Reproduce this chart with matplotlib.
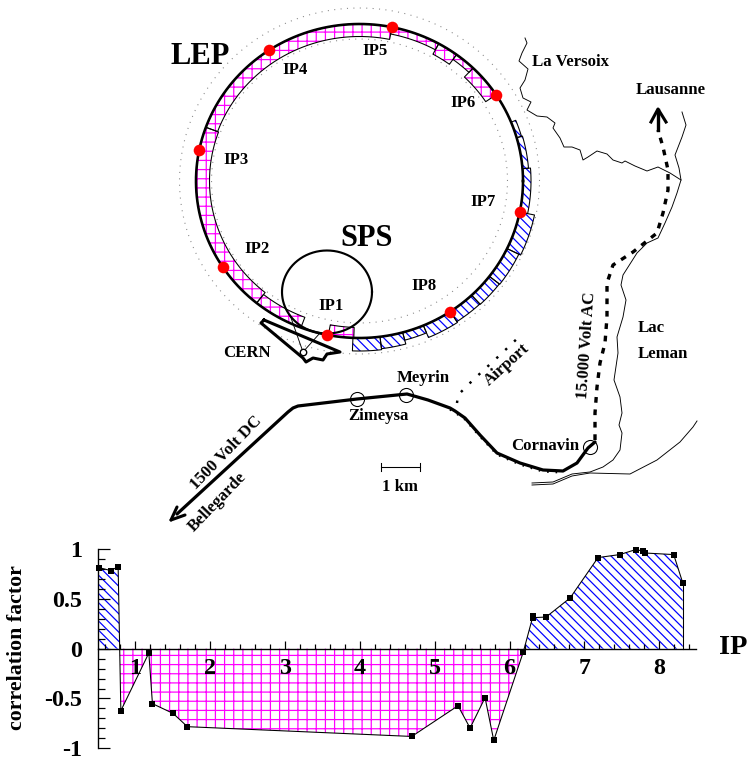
#!/usr/bin/env python3
import numpy as np
import matplotlib
matplotlib.use("Agg")
import matplotlib.pyplot as plt
from matplotlib.ticker import MultipleLocator

plt.rcParams["font.family"] = ["Liberation Serif", "DejaVu Serif"]
plt.rcParams["font.weight"] = "bold"
plt.rcParams["hatch.linewidth"] = 0.8

W, H, DPI = 747, 760, 110
PINK = "#ff00ff"
BLUE = "#0000ff"
BLUE_HATCH = "\\" * 4

# correlation factor versus IP position
ip_pos = [0.519, 0.675, 0.773, 0.809, 1.183, 1.231, 1.507, 1.698, 4.694, 5.312, 5.473,
          5.673, 5.789, 6.185, 6.314, 6.314, 6.487, 6.808, 7.182, 7.471, 7.685, 7.778,
          7.805, 8.192, 8.312]
corr = [0.813, 0.783, 0.823, -0.623, -0.044, -0.552, -0.65, -0.783, -0.881, -0.573, -0.797,
        -0.492, -0.921, -0.03, 0.331, 0.311, 0.317, 0.508, 0.914, 0.944, 0.994, 0.98,
        0.96, 0.944, 0.663]
x_labels = [1, 2, 3, 4, 5, 6, 7, 8]
y_labels = [-1, -0.5, 0, 0.5, 1]

# LEP ring, angles in degrees of the ellipse parameter
ip_names = ["IP1", "IP2", "IP3", "IP4", "IP5", "IP6", "IP7", "IP8"]
ip_angles = [258.5, 213.3, 168.6, 123.7, 78.5, 33.3, -11.4, -56.3]
ip_label_x = [331, 257, 236, 295.5, 375, 463, 483, 424]
ip_label_y = [306, 249, 160, 70, 51, 103, 202, 286]
# (from angle, to angle, width in px)
pink_bands = [(259, 268, 10.5), (231, 249, 11), (160, 231, 13.5), (78.5, 160, 12.5),
              (61, 78.5, 7), (53.6, 61, 12), (46, 53.6, 6), (33.3, 46, 12.5)]
blue_bands = [(16, 22, 5), (4.5, 16, 6), (-11.4, 4.5, 8), (-25.5, -11.4, 15),
              (-37.4, -25.5, 13), (-46.7, -37.4, 12.5), (-56.3, -46.7, 12),
              (-67, -56.3, 13), (-74.7, -67, 8), (-82.8, -74.7, 12), (-92.3, -82.8, 13)]

# map lines, picture coordinates
versoix_x = [525, 527, 522, 519, 528, 525, 520, 523, 531, 527, 537, 547, 555, 553, 560, 564,
             572, 580, 583, 588, 597, 607, 613, 622, 625, 635, 647, 658, 670, 681]
versoix_y = [38, 43, 53, 61, 69, 80, 88, 98, 102, 110, 116, 117, 123, 128, 138, 147,
             147, 150, 160, 157, 151, 154, 160, 163, 161, 166, 171, 167, 173, 180]
shore_x = [682, 686, 682, 675, 679, 681, 677, 672, 665, 658, 647, 637, 623, 621, 626, 623,
           617, 618, 614, 620, 622, 619, 622, 620, 613, 603, 590, 572, 553, 532]
shore_y = [112, 125, 137, 155, 168, 180, 193, 207, 223, 238, 243, 253, 275, 285, 300, 317,
           337, 353, 380, 397, 413, 425, 433, 450, 460, 467, 472, 474, 482, 483]
coast_x = [532, 553, 572, 590, 630, 657, 680, 693, 697]
coast_y = [485, 484, 476, 473, 474, 460, 442, 427, 421]
rail_dc_x = [177, 288, 293, 298, 357, 407, 428, 450, 455, 465, 480, 497, 520, 543, 563, 577, 588, 595]
rail_dc_y = [514, 412, 408, 406, 399, 394, 400, 408, 411, 418, 435, 453, 463, 470, 471, 463, 448, 442]
rail_ac_x = [595, 595, 597, 600, 605, 607, 607, 613, 633, 657, 663, 668, 668, 663, 658]
rail_ac_y = [440, 413, 387, 363, 343, 317, 283, 265, 252, 233, 213, 190, 170, 147, 130]
airport_x = [457, 458, 473, 500, 522]
airport_y = [403, 395, 380, 355, 334]
cern_x = [264, 261, 303, 306, 313, 323, 327, 340, 264]
cern_y = [320, 323, 358, 362, 358, 360, 354, 352, 320]
stations_x = [357, 406, 590]
stations_y = [399, 395, 447]


def ring_xy(t, rx=163.5, ry=157.0):
    a = np.radians(t)
    return 359.5 + rx * np.cos(a), 181 - ry * np.sin(a)


def draw_band(ax, t0, t1, w, color, hatch):
    # w > 0 goes outside of the ring, w < 0 inside
    t = np.linspace(t0, t1, 40)
    x0, y0 = ring_xy(t)
    x1, y1 = ring_xy(t, 163.5 + w, 157.0 + w)
    px = np.r_[x0, x1[::-1]]
    py = np.r_[y0, y1[::-1]]
    ax.fill(px, py, facecolor="none", edgecolor=color, hatch=hatch, lw=0)
    ax.plot(np.r_[px, px[0]], np.r_[py, py[0]], color="k", lw=0.7)


def draw_map(ax):
    t = np.linspace(0, 360, 400)
    ax.plot(*ring_xy(t, 180, 173), color="#888888", lw=0.7, ls=(0, (1, 5)))
    ax.plot(*ring_xy(t, 148, 142), color="#888888", lw=0.7, ls=(0, (1, 5)))

    for t0, t1, w in pink_bands:
        draw_band(ax, t0, t1, -w, PINK, "++")
    for t0, t1, w in blue_bands:
        draw_band(ax, t0, t1, w, BLUE, BLUE_HATCH)
    ax.plot(*ring_xy(t), color="k", lw=1.7)

    # SPS
    a = np.radians(t)
    ax.plot(327 + 45 * np.cos(a), 292 + 41.5 * np.sin(a), color="k", lw=1.4)

    # CERN site and the injection lines
    ax.plot(cern_x, cern_y, color="k", lw=2.0, solid_joinstyle="round")
    ax.plot([290, 303, 320], [315, 352, 333], color="k", lw=0.6)
    ax.plot([303], [352], "o", ms=4.2, mfc="white", mec="k", mew=0.9)

    ax.plot(*ring_xy(np.array(ip_angles)), "o", color="#ff0000", ms=7.6, mew=0, zorder=5)

    # rivers and lake
    ax.plot(versoix_x, versoix_y, color="k", lw=0.6)
    ax.plot(shore_x, shore_y, color="k", lw=0.6)
    ax.plot(coast_x, coast_y, color="k", lw=0.6)

    # railways
    ax.plot(rail_dc_x, rail_dc_y, color="k", lw=2.1, solid_capstyle="round")
    ax.plot([171, 185], [520, 515], color="k", lw=2.0, solid_capstyle="round")
    ax.plot([171, 177], [520, 507], color="k", lw=2.0, solid_capstyle="round")
    ax.plot(np.array(rail_dc_x[7:15]), np.array(rail_dc_y[7:15]) + 1.5, color="k", lw=1.5,
            ls=(0, (0.7, 3)))
    ax.plot(rail_ac_x, rail_ac_y, color="k", lw=2.2, ls=(0, (1.7, 2.0)))
    ax.plot([658, 658], [130, 110], color="k", lw=2.2)
    ax.plot([651, 658, 666], [122, 109, 122], color="k", lw=2.0)
    ax.plot(airport_x, airport_y, color="k", lw=1.6, ls=(0, (1, 4)))

    ax.plot(stations_x, stations_y, "o", ms=9.2, mfc="none", mec="k", mew=0.7)

    # scale bar
    ax.plot([381, 420], [467, 467], color="k", lw=0.7)
    ax.plot([381, 381], [463, 471], color="k", lw=0.7)
    ax.plot([420, 420], [463, 471], color="k", lw=0.7)

    for name, x, y in zip(ip_names, ip_label_x, ip_label_y):
        ax.text(x, y, name, fontsize=11, ha="center", va="center")
    ax.text(200, 57, "LEP", fontsize=20, ha="center", va="center")
    ax.text(367, 239, "SPS", fontsize=20, ha="center", va="center")
    ax.text(247, 353, "CERN", fontsize=11, ha="center", va="center")
    ax.text(570, 62, "La Versoix", fontsize=11, ha="center", va="center")
    ax.text(671, 90, "Lausanne", fontsize=11, ha="center", va="center")
    ax.text(638, 328, "Lac", fontsize=11, ha="left", va="center")
    ax.text(638, 354, "Leman", fontsize=11, ha="left", va="center")
    ax.text(423, 378, "Meyrin", fontsize=11, ha="center", va="center")
    ax.text(378, 416, "Zimeysa", fontsize=11, ha="center", va="center")
    ax.text(545, 446, "Cornavin", fontsize=11, ha="center", va="center")
    ax.text(400, 487, "1 km", fontsize=11, ha="center", va="center")
    ax.text(587, 345, "15.000 Volt AC", fontsize=11, rotation=86, ha="center", va="center")
    ax.text(507, 365, "Airport", fontsize=11, rotation=42, ha="center", va="center")
    ax.text(226, 453, "1500 Volt DC", fontsize=11, rotation=46, ha="center", va="center")
    ax.text(217, 502, "Bellegarde", fontsize=11, rotation=46, ha="center", va="center")


def draw_corr(ax):
    x = np.array(ip_pos)
    y = np.array(corr)
    ax.fill_between(x, y, 0, where=y >= 0, interpolate=True, facecolor="none",
                    edgecolor=BLUE, hatch=BLUE_HATCH, lw=0)
    ax.fill_between(x, y, 0, where=y <= 0, interpolate=True, facecolor="none",
                    edgecolor=PINK, hatch="++", lw=0)
    ax.plot(x, y, color="k", lw=0.7)
    ax.plot([x[-1], x[-1]], [y[-1], 0], color="k", lw=0.7)
    ax.plot(x, y, "s", color="k", ms=4.1, mew=0, clip_on=False, zorder=5)

    ax.set_xlim(0.5, 8.49)
    ax.set_ylim(-1, 1)
    ax.patch.set_alpha(0)
    for s in ["top", "right"]:
        ax.spines[s].set_visible(False)
    ax.spines["bottom"].set_position(("data", 0))
    ax.spines["bottom"].set_linewidth(0.9)
    ax.spines["left"].set_linewidth(0.9)

    ax.set_xticks(x_labels)
    ax.set_xticklabels([str(v) for v in x_labels])
    ax.xaxis.set_minor_locator(MultipleLocator(0.2))
    ax.set_yticks(y_labels)
    ax.set_yticklabels([f"{v:g}" for v in y_labels])
    ax.yaxis.set_minor_locator(MultipleLocator(0.1))
    ax.tick_params(axis="x", which="major", direction="in", length=5.5, width=0.8, labelsize=15.7, pad=6)
    ax.tick_params(axis="x", which="minor", direction="in", length=3.2, width=0.8)
    ax.tick_params(axis="y", which="major", direction="in", length=8, width=0.8, labelsize=15.7, pad=10)
    ax.tick_params(axis="y", which="minor", direction="in", length=4.5, width=0.8)


def main():
    fig = plt.figure(figsize=(W / DPI, H / DPI), dpi=DPI)

    m = fig.add_axes([0, 0, 1, 1])
    m.set_xlim(0, W)
    m.set_ylim(H, 0)
    m.axis("off")
    draw_map(m)

    left, right, top, bottom = 97.7, 696, 549, 748.3
    c = fig.add_axes([left / W, 1 - bottom / H, (right - left) / W, (bottom - top) / H])
    draw_corr(c)

    m.text(17, 648, "correlation factor", fontsize=14.3, rotation=90, ha="center", va="center")
    m.text(733, 648, "IP", fontsize=18.5, ha="center", va="center")

    fig.savefig("out.png", dpi=DPI)
    plt.close(fig)


if __name__ == "__main__":
    main()
